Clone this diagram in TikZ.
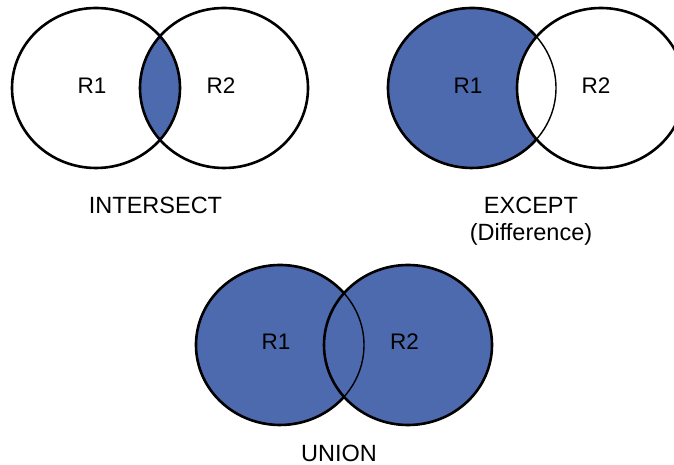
\documentclass[tikz,border=0pt]{standalone}
\usepackage{fontspec}
\setmainfont{Liberation Sans}
\definecolor{setblue}{RGB}{78,106,174}
\begin{document}
\begin{tikzpicture}[x=1pt,y=1pt,
  setline/.style={line width=2.6pt},
  seam/.style={line width=1.4pt},
  setlabel/.style={font=\fontsize{22.5}{27}\selectfont, inner sep=0pt, anchor=base},
  caption/.style={font=\fontsize{23.5}{27}\selectfont, inner sep=0pt, anchor=base},
  set/.style={x radius=84pt, y radius=80pt}]
\useasboundingbox (0,0) rectangle (674,465);
\clip (0,0) rectangle (674,465);

% ---------- INTERSECT ----------
\coordinate (ia) at (96,377);
\coordinate (ib) at (224,377);
\begin{scope}
  \clip (ia) ellipse [set];
  \fill[setblue] (ib) ellipse [set];
\end{scope}
\draw[setline] (ia) ellipse [set];
\draw[setline] (ib) ellipse [set];
\node[setlabel] (ir1) at (92,371) {R1};
\node[setlabel] (ir2) at (221,371) {R2};
\node[caption] (icap) at (155.5,251.6) {INTERSECT};

% ---------- EXCEPT ----------
\coordinate (ea) at (472,377);
\coordinate (eb) at (601,377);
\fill[setblue] (ea) ellipse [set];
\begin{scope}
  \clip (ea) ellipse [set];
  \fill[white] (eb) ellipse [set];
\end{scope}
\draw[seam] (ea) ellipse [set];
\draw[setline] ([shift={(40.4:84pt and 80pt)}]ea) arc [start angle=40.4, end angle=319.6, set];
\draw[setline] (eb) ellipse [set];
\node[setlabel] (er1) at (468,371) {R1};
\node[setlabel] (er2) at (596,371) {R2};
\node[caption] (ecap) at (531,251.6) {EXCEPT};
\node[caption] (edif) at (531,224.6) {(Difference)};

% ---------- UNION ----------
\coordinate (ua) at (280,120);
\coordinate (ub) at (408,120);
\fill[setblue] (ua) ellipse [set];
\fill[setblue] (ub) ellipse [set];
\draw[seam] (ua) ellipse [set];
\draw[setline] ([shift={(40.4:84pt and 80pt)}]ua) arc [start angle=40.4, end angle=319.6, set];
\draw[setline] (ub) ellipse [set];
\node[setlabel] (ur1) at (276,115) {R1};
\node[setlabel] (ur2) at (404.5,115) {R2};
\node[caption] (ucap) at (339,3.6) {UNION};
\end{tikzpicture}
\end{document}
